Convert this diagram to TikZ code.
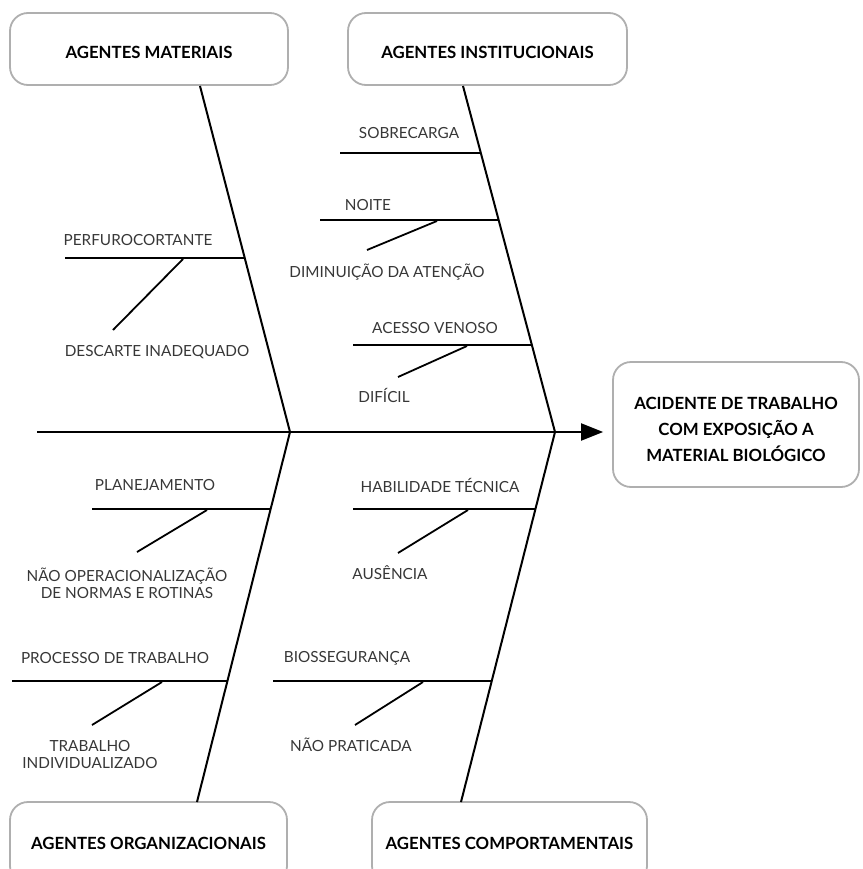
\documentclass[tikz,border=0pt]{standalone}
\usepackage{fontspec}
\setmainfont{Lato}
\usetikzlibrary{arrows.meta}
\definecolor{boxgray}{RGB}{175,175,175}
\definecolor{labelgray}{RGB}{55,55,55}
\newcommand{\lowerby}[2]{\raisebox{-#1}[\height][\depth]{#2}}
\begin{document}
\begin{tikzpicture}[x=1pt,y=-1pt,
  agentbox/.style={draw=boxgray, line width=1.8pt, rounded corners=18pt, fill=white,
    font=\bfseries\fontsize{16.8}{26}\selectfont, align=center, inner sep=0pt},
  bone/.style={line width=2pt, draw=black},
  twig/.style={line width=1.8pt, draw=black},
  lbl/.style={font=\fontsize{15.3}{17}\selectfont, text=labelgray, align=center, inner sep=0pt}]
\useasboundingbox (0,0) rectangle (862,869);
\clip (0,0) rectangle (862,869);

% category boxes
\node[agentbox, minimum width=278pt, minimum height=72pt] (mat) at (149,49) {\lowerby{3pt}{AGENTES MATERIAIS}};
\node[agentbox, minimum width=279pt, minimum height=72pt] (ins) at (487.5,49) {\lowerby{3pt}{AGENTES INSTITUCIONAIS}};
\node[agentbox, minimum width=277pt, minimum height=82pt] (org) at (148.5,843) {AGENTES ORGANIZACIONAIS};
\node[agentbox, minimum width=275pt, minimum height=82pt] (com) at (509.5,843) {AGENTES COMPORTAMENTAIS};
\node[agentbox, minimum width=246pt, minimum height=125pt] (res) at (736,424.5)
  {\lowerby{6pt}{\begin{tabular}{@{}c@{}}ACIDENTE DE TRABALHO\\COM EXPOSIÇÃO A\\MATERIAL BIOLÓGICO\end{tabular}}};

% joints
\coordinate (tail) at (37,432);
\coordinate (j1) at (290,432);
\coordinate (j2) at (555,432);
\coordinate (matb) at (200,86);
\coordinate (insb) at (463,86);
\coordinate (orgb) at (197,802);
\coordinate (comb) at (461,802);

% spine and bones
\draw[bone, -{Triangle[length=22pt,width=17pt]}, shorten >=9pt] (tail) -- (res.west |- tail);
\draw[bone] (matb) -- (j1);
\draw[bone] (insb) -- (j2);
\draw[bone] (j1) -- (orgb);
\draw[bone] (j2) -- (comb);

% sub-branch points on bones
\coordinate (pA) at (244.7,258);
\coordinate (pB) at (480.8,153);
\coordinate (pC) at (498.6,220);
\coordinate (pD) at (531.9,345);
\coordinate (pE) at (270.4,509);
\coordinate (pF) at (535.3,509);
\coordinate (pG) at (227.4,681);
\coordinate (pH) at (491.4,681);

% horizontal twigs
\coordinate (eA) at (65,258);
\coordinate (eB) at (340,153);
\coordinate (eC) at (320,220);
\coordinate (eD) at (353,345);
\coordinate (eE) at (92,509);
\coordinate (eF) at (353,509);
\coordinate (eG) at (12,681);
\coordinate (eH) at (273,681);
\draw[twig] (eA) -- (pA);
\draw[twig] (eB) -- (pB);
\draw[twig] (eC) -- (pC);
\draw[twig] (eD) -- (pD);
\draw[twig] (eE) -- (pE);
\draw[twig] (eF) -- (pF);
\draw[twig] (eG) -- (pG);
\draw[twig] (eH) -- (pH);

% diagonal twigs
\coordinate (dA1) at (183,259); \coordinate (dA2) at (113,330);
\coordinate (dC1) at (437,221); \coordinate (dC2) at (367,250);
\coordinate (dD1) at (467,346); \coordinate (dD2) at (398,377);
\coordinate (dE1) at (207,510); \coordinate (dE2) at (137,552);
\coordinate (dF1) at (468,510); \coordinate (dF2) at (398,553);
\coordinate (dG1) at (162,682); \coordinate (dG2) at (92,725);
\coordinate (dH1) at (423,682); \coordinate (dH2) at (355,725);
\draw[twig] (dA1) -- (dA2);
\draw[twig] (dC1) -- (dC2);
\draw[twig] (dD1) -- (dD2);
\draw[twig] (dE1) -- (dE2);
\draw[twig] (dF1) -- (dF2);
\draw[twig] (dG1) -- (dG2);
\draw[twig] (dH1) -- (dH2);

% labels
\node[lbl] (tSob) at (409,133) {SOBRECARGA};
\node[lbl] (tNoi) at (368,205) {NOITE};
\node[lbl] (tDim) at (387,272) {DIMINUIÇÃO DA ATENÇÃO};
\node[lbl] (tAce) at (435,328) {ACESSO VENOSO};
\node[lbl] (tDif) at (384,395) {DIFÍCIL};
\node[lbl] (tPer) at (138,240) {PERFUROCORTANTE};
\node[lbl] (tDes) at (157,352) {DESCARTE INADEQUADO};
\node[lbl] (tPla) at (155,485) {PLANEJAMENTO};
\node[lbl] (tNao) at (127,583) {NÃO OPERACIONALIZAÇÃO\\DE NORMAS E ROTINAS};
\node[lbl] (tHab) at (440,485) {HABILIDADE TÉCNICA};
\node[lbl] (tAus) at (390,573) {AUSÊNCIA};
\node[lbl] (tPro) at (115,658) {PROCESSO DE TRABALHO};
\node[lbl] (tTra) at (90,755) {TRABALHO\\INDIVIDUALIZADO};
\node[lbl] (tBio) at (347,658) {BIOSSEGURANÇA};
\node[lbl] (tNpr) at (351,745) {NÃO PRATICADA};
\end{tikzpicture}
\end{document}
